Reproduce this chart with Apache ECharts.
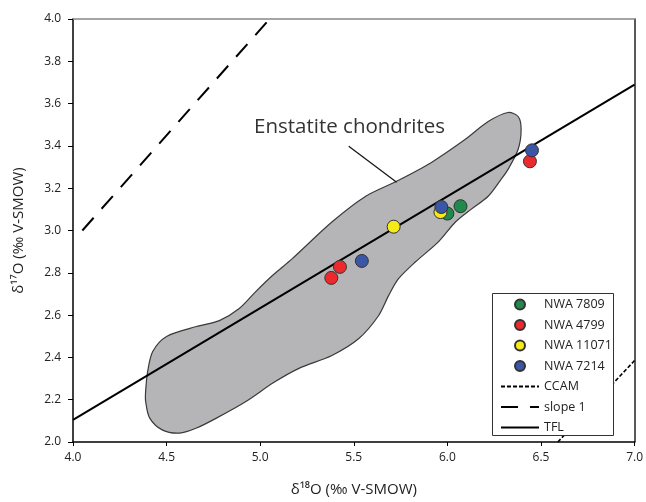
<!DOCTYPE html>
<html>
<head>
<meta charset="utf-8">
<script src="https://cdn.jsdelivr.net/npm/echarts@6/dist/echarts.min.js"></script>
<style>
  html, body { margin: 0; padding: 0; background: #fff; }
  #main { width: 646px; height: 502px; }
</style>
</head>
<body>
<div id="main"></div>
<script>
// points (d18O, d17O)
var nwa7809 = [[6.00, 3.08], [6.07, 3.115]];
var nwa4799 = [[5.38, 2.776], [5.426, 2.828], [6.441, 3.327]];
var nwa11071 = [[5.713, 3.018], [5.963, 3.087]];
var nwa7214 = [[5.543, 2.856], [5.968, 3.111], [6.452, 3.379]];

// reference lines
var ccamLine = [[6.59, 2.0], [7.0, 2.385]];
var slope1Line = [[4.05, 3.0], [5.05, 4.0]];
var tflLine = [[4.0, 2.105], [7.0, 3.69]];

// enstatite chondrite field outline
var ecOutline = [
  [4.388, 2.240], [4.399, 2.334], [4.426, 2.428], [4.500, 2.499], [4.660, 2.546],
  [4.782, 2.574], [4.888, 2.631], [4.975, 2.710], [5.064, 2.786], [5.170, 2.866],
  [5.383, 3.040], [5.564, 3.162], [5.729, 3.233], [5.915, 3.322],
  [6.096, 3.431], [6.218, 3.515], [6.324, 3.558], [6.378, 3.539], [6.394, 3.478],
  [6.378, 3.384], [6.324, 3.289], [6.287, 3.242], [6.218, 3.162], [6.128, 3.101],
  [6.043, 3.040], [5.952, 2.946], [5.830, 2.852], [5.739, 2.772], [5.686, 2.692],
  [5.633, 2.598], [5.527, 2.489], [5.383, 2.409], [5.207, 2.348],
  [5.074, 2.282], [4.926, 2.193], [4.766, 2.113], [4.660, 2.066], [4.569, 2.042],
  [4.479, 2.056], [4.410, 2.113], [4.388, 2.193]
];
var labelPointer = [[5.473, 3.398], [5.729, 3.228]];

var xTicks = { min: 4.0, max: 7.0, step: 0.5 };
var yTicks = { min: 2.0, max: 4.0, step: 0.2 };

var font = 'Open Sans';
var myChart = echarts.init(document.getElementById('main'));

function dot(name, data, color) {
  return {
    name: name,
    type: 'scatter',
    data: data,
    symbol: 'circle',
    symbolSize: 13,
    itemStyle: { color: color, borderColor: '#333', borderWidth: 1, opacity: 1 },
    z: 5
  };
}

function refLine(name, data, width, type) {
  return {
    name: name,
    type: 'line',
    data: data,
    symbol: 'none',
    itemStyle: { color: 'rgba(0,0,0,0)', borderColor: 'rgba(0,0,0,0)', borderWidth: 0 },
    lineStyle: { color: '#000', width: width, type: type },
    z: 3,
    silent: true
  };
}

function lineKey(name) {
  return { name: name, itemStyle: { opacity: 0 } };
}

option = {
  animation: false,
  textStyle: { fontFamily: font },
  grid: { left: 73, right: 9, top: 19, bottom: 58 },
  xAxis: [{
    type: 'value',
    min: xTicks.min, max: xTicks.max, interval: xTicks.step,
    name: 'δ¹⁸O (‰ V-SMOW)',
    nameLocation: 'middle',
    nameGap: 40,
    nameTextStyle: { fontSize: 15, color: '#222', fontFamily: font },
    axisLine: { lineStyle: { color: '#000', width: 1.5 } },
    axisTick: { length: 4, lineStyle: { color: '#000' } },
    axisLabel: { fontSize: 12, color: '#222', margin: 10, formatter: function (v) { return v.toFixed(1); } },
    splitLine: { show: false }
  }, {
    type: 'value', position: 'top',
    min: xTicks.min, max: xTicks.max,
    axisLine: { show: true, lineStyle: { color: '#888', width: 1.5 } },
    axisTick: { show: false }, axisLabel: { show: false }, splitLine: { show: false }
  }],
  yAxis: [{
    type: 'value',
    min: yTicks.min, max: yTicks.max, interval: yTicks.step,
    name: 'δ¹⁷O (‰ V-SMOW)',
    nameLocation: 'middle',
    nameGap: 47,
    nameTextStyle: { fontSize: 15, color: '#222', fontFamily: font },
    axisLine: { show: true, lineStyle: { color: '#000', width: 1.5 } },
    axisTick: { show: true, length: 5, lineStyle: { color: '#000' } },
    axisLabel: { fontSize: 12, color: '#222', margin: 12, formatter: function (v) { return v.toFixed(1); } },
    splitLine: { show: false }
  }, {
    type: 'value', position: 'right',
    min: yTicks.min, max: yTicks.max,
    axisLine: { show: true, lineStyle: { color: '#222', width: 1.5 } },
    axisTick: { show: false }, axisLabel: { show: false }, splitLine: { show: false }
  }],
  legend: {
    orient: 'vertical',
    left: 492,
    top: 293,
    z: 8,
    data: ['NWA 7809', 'NWA 4799', 'NWA 11071', 'NWA 7214',
      lineKey('CCAM'), lineKey('slope 1'), lineKey('TFL')],
    padding: [5, 5, 5, 8],
    itemWidth: 38,
    itemHeight: 10,
    itemGap: 7.5,
    textStyle: { fontSize: 12.5, color: '#222', fontFamily: font },
    selectedMode: false
  },
  graphic: [{
    // legend frame, white so it hides the CCAM line behind it
    type: 'rect',
    shape: { x: 492.5, y: 293.5, width: 121, height: 142 },
    style: { fill: '#fff', stroke: '#333', lineWidth: 1 },
    z: 6
  }, {
    type: 'text',
    left: 254,
    top: 117,
    style: { text: 'Enstatite chondrites', fontSize: 20.5, fontFamily: font, fill: '#333' },
    z: 10
  }],
  series: [
    {
      name: 'Enstatite chondrites field',
      type: 'custom',
      data: [[ecOutline[0][0], ecOutline[0][1]]],
      silent: true,
      z: 1,
      renderItem: function (params, api) {
        var pts = ecOutline.map(function (p) { return api.coord(p); });
        return {
          type: 'polygon',
          shape: { points: pts, smooth: 0.3 },
          style: { fill: '#b5b5b7', stroke: '#3a3a3a', lineWidth: 1.2 }
        };
      }
    },
    {
      name: 'pointer',
      type: 'line',
      data: labelPointer,
      symbol: 'none',
      silent: true,
      lineStyle: { color: '#111', width: 1.2 },
      z: 2
    },
    refLine('CCAM', ccamLine, 1.6, [4, 2]),
    refLine('slope 1', slope1Line, 2, [17, 12]),
    refLine('TFL', tflLine, 2, 'solid'),
    dot('NWA 7809', nwa7809, '#1f8a4c'),
    dot('NWA 4799', nwa4799, '#ec2a2e'),
    dot('NWA 11071', nwa11071, '#f6ea18'),
    dot('NWA 7214', nwa7214, '#3b56a5')
  ]
};

myChart.setOption(option);
</script>
</body>
</html>
